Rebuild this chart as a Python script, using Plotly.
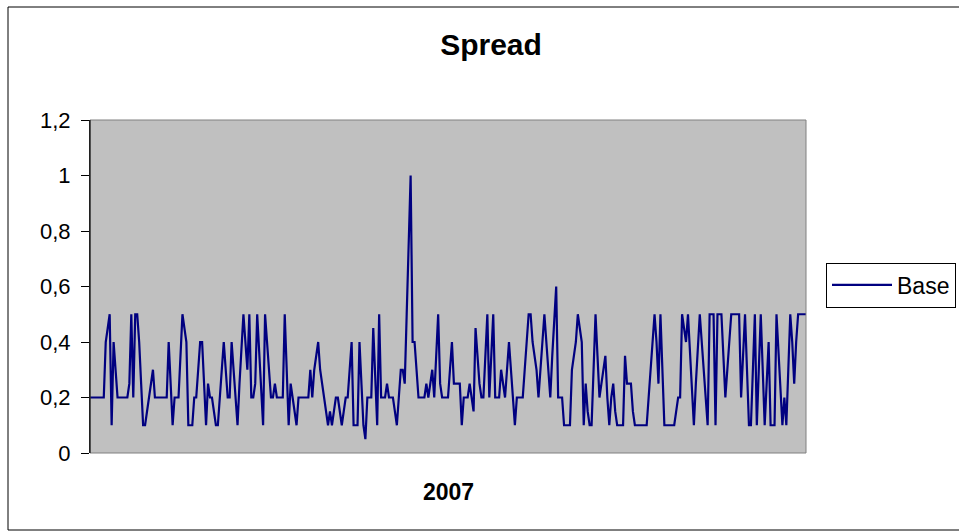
import pandas as pd
import plotly.graph_objects as go

# Daily spread values for 2007 (one list per month)
jan = [0.2, 0.2, 0.2, 0.2, 0.2, 0.2, 0.2, 0.2, 0.4, 0.45, 0.5, 0.1, 0.4, 0.3, 0.2,
       0.2, 0.2, 0.2, 0.2, 0.2, 0.25, 0.5, 0.2, 0.5, 0.5, 0.4, 0.25, 0.1, 0.1, 0.15, 0.2]
feb = [0.25, 0.3, 0.2, 0.2, 0.2, 0.2, 0.2, 0.2, 0.2, 0.4, 0.25, 0.1, 0.2, 0.2, 0.2,
       0.35, 0.5, 0.45, 0.4, 0.1, 0.1, 0.1, 0.2, 0.2, 0.3, 0.4, 0.4, 0.25]
mar = [0.1, 0.25, 0.2, 0.2, 0.15, 0.1, 0.1, 0.2, 0.3, 0.4, 0.3, 0.2, 0.2, 0.4, 0.3,
       0.2, 0.1, 0.25, 0.4, 0.5, 0.4, 0.3, 0.5, 0.2, 0.2, 0.25, 0.5, 0.35, 0.2, 0.1, 0.5]
apr = [0.4, 0.3, 0.2, 0.2, 0.25, 0.2, 0.2, 0.2, 0.2, 0.5, 0.3, 0.1, 0.25, 0.2, 0.15,
       0.1, 0.2, 0.2, 0.2, 0.2, 0.2, 0.2, 0.3, 0.2, 0.3, 0.35, 0.4, 0.3, 0.25, 0.2]
may = [0.15, 0.1, 0.15, 0.1, 0.15, 0.2, 0.2, 0.15, 0.1, 0.15, 0.2, 0.2, 0.3, 0.4, 0.1,
       0.1, 0.1, 0.4, 0.25, 0.1, 0.05, 0.2, 0.2, 0.2, 0.45, 0.25, 0.1, 0.5, 0.2, 0.2, 0.2]
jun = [0.25, 0.2, 0.2, 0.2, 0.15, 0.1, 0.2, 0.3, 0.3, 0.25, 0.5, 0.75, 1.0, 0.4, 0.4,
       0.3, 0.2, 0.2, 0.2, 0.2, 0.25, 0.2, 0.25, 0.3, 0.2, 0.35, 0.5, 0.25, 0.2, 0.2]
jul = [0.2, 0.2, 0.3, 0.4, 0.25, 0.25, 0.25, 0.25, 0.1, 0.2, 0.2, 0.2, 0.25, 0.2, 0.15,
       0.45, 0.35, 0.25, 0.2, 0.2, 0.35, 0.5, 0.2, 0.35, 0.5, 0.2, 0.2, 0.2, 0.3, 0.25, 0.2]
aug = [0.3, 0.4, 0.3, 0.2, 0.1, 0.2, 0.2, 0.2, 0.2, 0.3, 0.4, 0.5, 0.5, 0.4, 0.35,
       0.3, 0.2, 0.3, 0.4, 0.5, 0.4, 0.3, 0.2, 0.35, 0.5, 0.6, 0.2, 0.2, 0.2, 0.1, 0.1]
sep = [0.1, 0.1, 0.3, 0.35, 0.4, 0.5, 0.45, 0.4, 0.1, 0.25, 0.15, 0.1, 0.1, 0.3, 0.5,
       0.35, 0.2, 0.25, 0.3, 0.35, 0.2, 0.1, 0.2, 0.25, 0.15, 0.1, 0.1, 0.1, 0.1, 0.35]
oct_ = [0.25, 0.25, 0.25, 0.15, 0.1, 0.1, 0.1, 0.1, 0.1, 0.1, 0.1, 0.2, 0.3, 0.4, 0.5,
        0.4, 0.25, 0.5, 0.3, 0.1, 0.1, 0.1, 0.1, 0.1, 0.1, 0.15, 0.2, 0.2, 0.5, 0.45, 0.4]
nov = [0.5, 0.35, 0.2, 0.1, 0.25, 0.4, 0.5, 0.4, 0.3, 0.2, 0.1, 0.5, 0.5, 0.5, 0.1,
       0.5, 0.5, 0.5, 0.35, 0.2, 0.3, 0.4, 0.5, 0.5, 0.5, 0.5, 0.5, 0.2, 0.35, 0.5]
dec = [0.3, 0.1, 0.1, 0.3, 0.5, 0.1, 0.3, 0.5, 0.3, 0.1, 0.25, 0.4, 0.1, 0.1, 0.1,
       0.5, 0.35, 0.2, 0.1, 0.2, 0.1, 0.3, 0.5, 0.4, 0.25, 0.4, 0.5, 0.5, 0.5, 0.5, 0.5]

spread = jan + feb + mar + apr + may + jun + jul + aug + sep + oct_ + nov + dec
dates = pd.date_range("2007-01-01", periods=len(spread), freq="D")

y_tickvals = [0, 0.2, 0.4, 0.6, 0.8, 1.0, 1.2]
y_ticktext = ["0", "0,2", "0,4", "0,6", "0,8", "1", "1,2"]

FONT = "Liberation Sans, Arial, sans-serif"

fig = go.Figure()
fig.add_trace(go.Scatter(
    x=dates, y=spread, mode="lines", name="Base",
    line=dict(color="#000080", width=2.2),
))

W, H = 959, 532
L, R, T, B = 90, 153, 120, 79
pw, ph = W - L - R, H - T - B

def px(x):
    return (x - L) / pw

def py(y):
    return (H - B - y) / ph

frame = dict(color="black", width=1)

fig.update_layout(
    width=W, height=H,
    margin=dict(l=L, r=R, t=T, b=B, autoexpand=False),
    paper_bgcolor="white",
    plot_bgcolor="#C0C0C0",
    font=dict(family=FONT, color="black", size=20),
    title=dict(text="<b>Spread</b>", x=491 / W, xanchor="center",
               y=1 - 44 / H, yanchor="middle", font=dict(size=30)),
    showlegend=True,
    legend=dict(x=px(826), y=py(285), xanchor="left", yanchor="middle",
                bordercolor="black", borderwidth=1, bgcolor="white",
                font=dict(size=23), itemwidth=60),
    xaxis=dict(range=[dates[0], dates[-1]], showticklabels=False, ticks="",
               showgrid=False, zeroline=False, showline=False),
    yaxis=dict(range=[0, 1.2], tickvals=y_tickvals, ticktext=y_ticktext,
               ticks="outside", ticklen=8, tickcolor="black", tickwidth=1,
               ticklabelstandoff=6,
               showgrid=False, zeroline=False, showline=True,
               linecolor="black", linewidth=1, tickfont=dict(size=22)),
    shapes=[
        dict(type="rect", xref="paper", yref="paper", x0=0, x1=1, y0=0, y1=1,
             line=dict(color="#808080", width=1), layer="above"),
        dict(type="line", xref="paper", yref="paper", x0=0, x1=0, y0=0, y1=1,
             line=dict(color="black", width=1), layer="above"),
        # outer chart frame (right side falls outside the picture)
        dict(type="line", xref="paper", yref="paper",
             x0=px(8), x1=px(8), y0=py(530), y1=py(7), line=frame),
        dict(type="line", xref="paper", yref="paper",
             x0=px(8), x1=px(959), y0=py(7), y1=py(7), line=frame),
        dict(type="line", xref="paper", yref="paper",
             x0=px(8), x1=px(959), y0=py(530), y1=py(530), line=frame),
    ],
    annotations=[
        dict(text="<b>2007</b>", xref="paper", yref="paper", x=0.5, y=py(492),
             showarrow=False, font=dict(size=23), xanchor="center", yanchor="middle"),
    ],
)

fig.write_html(
    "out.html",
    config={"displayModeBar": False},
    post_script="document.body.style.margin='0';document.body.style.overflow='hidden';",
)
